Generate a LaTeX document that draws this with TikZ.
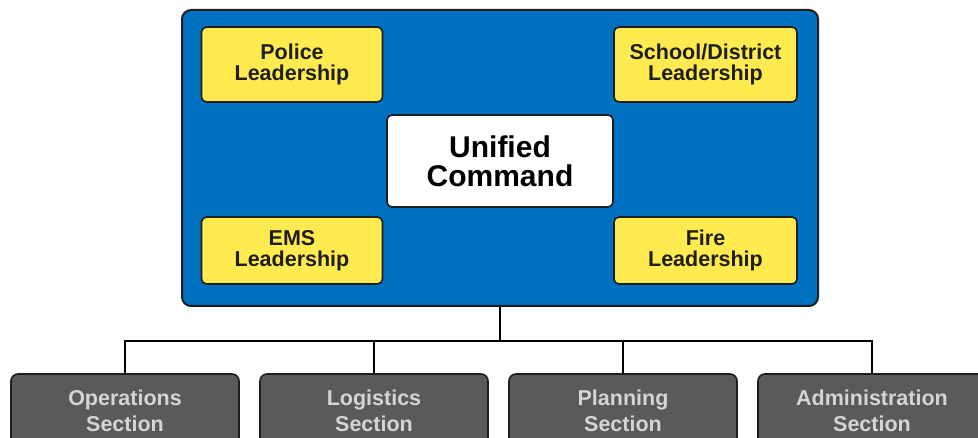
\documentclass[tikz,border=0pt]{standalone}
\usepackage{fontspec}
\setmainfont{Liberation Sans}
\definecolor{ucblue}{RGB}{0,112,192}
\definecolor{ldyellow}{RGB}{255,235,80}
\definecolor{secgray}{RGB}{90,90,90}
\definecolor{sectext}{RGB}{212,212,212}
\definecolor{edge}{RGB}{30,30,30}
\begin{document}
\begin{tikzpicture}[x=1pt,y=-1pt,
  outerbox/.style={draw=edge,line width=2pt,fill=ucblue,rounded corners=9pt,minimum width=636pt,minimum height=296pt,inner sep=0pt},
  leadbox/.style={draw=edge,line width=1.6pt,fill=ldyellow,rounded corners=5pt,minimum width=181pt,inner sep=0pt,align=center,font=\fontsize{21.5}{21}\selectfont\bfseries,text=black!88},
  ucbox/.style={draw=edge,line width=1.6pt,fill=white,rounded corners=5pt,minimum width=226pt,minimum height=92pt,inner sep=0pt,align=center,font=\fontsize{30}{29}\selectfont\bfseries},
  secbox/.style={draw=edge,line width=1.6pt,fill=secgray,rounded corners=7pt,minimum width=228pt,minimum height=74pt,inner sep=0pt,align=center,font=\fontsize{21.5}{26}\selectfont\bfseries,text=sectext},
  link/.style={draw=black,line width=1.6pt}]
\useasboundingbox (0,0) rectangle (978,438);
\clip (0,0) rectangle (978,438);
\fill[white] (0,0) rectangle (978,438);
\node[outerbox] (outer) at (500,158) {};
\node[leadbox,minimum height=75pt] (police) at (292,64.5) {Police\\Leadership};
\node[leadbox,minimum height=75pt,minimum width=183pt] (school) at (705.5,64.5) {School/District\\Leadership};
\node[leadbox,minimum height=67pt] (ems) at (292,250.5) {EMS\\Leadership};
\node[leadbox,minimum height=67pt,minimum width=183pt] (fire) at (705.5,250.5) {Fire\\Leadership};
\node[ucbox] (uc) at (500,161) {Unified\\Command};
\node[secbox] (ops) at (125,411) {Operations\\Section};
\node[secbox] (log) at (374,411) {Logistics\\Section};
\node[secbox] (plan) at (623,411) {Planning\\Section};
\node[secbox] (adm) at (872,411) {Administration\\Section};
\coordinate (bus) at (500,341);
\draw[link] (outer.south) -- (bus);
\draw[link] (bus) -| (ops.north);
\draw[link] (bus) -| (log.north);
\draw[link] (bus) -| (plan.north);
\draw[link] (bus) -| (adm.north);
\end{tikzpicture}
\end{document}
